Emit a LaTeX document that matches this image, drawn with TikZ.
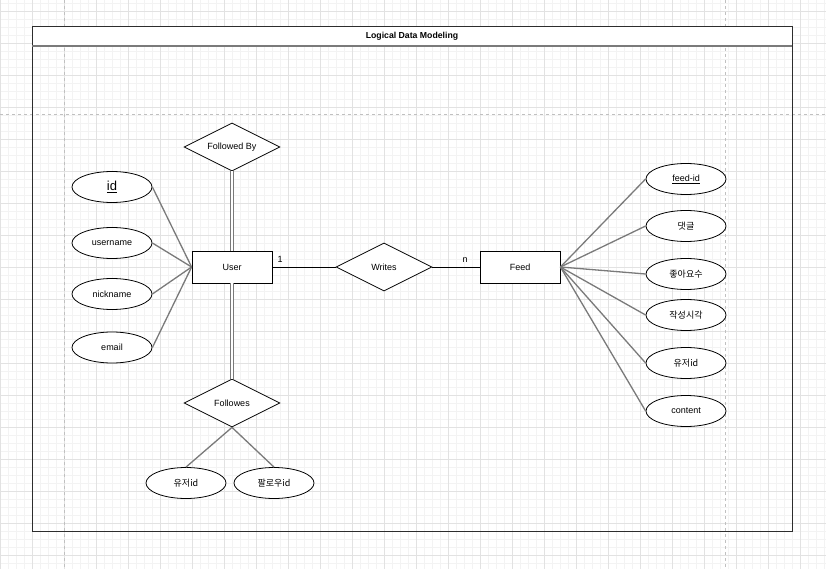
\documentclass[tikz,border=0pt]{standalone}
\usepackage{fontspec}
\setmainfont{Liberation Sans}
\newfontfamily\kr{Noto Sans CJK KR}
\usetikzlibrary{shapes.geometric}
\definecolor{gmin}{RGB}{243,243,243}
\definecolor{gmaj}{RGB}{226,226,226}
\definecolor{pagel}{RGB}{192,192,192}
\definecolor{attrl}{RGB}{122,122,122}
\definecolor{framec}{RGB}{45,45,45}
\begin{document}
\begin{tikzpicture}[x=1pt,y=-1pt,
  lbl/.style={font=\fontsize{9}{10}\selectfont},
  attr/.style={ellipse, draw=black, line width=0.8pt, fill=white, minimum width=80pt, minimum height=31pt, inner sep=0pt, font=\fontsize{9}{10}\selectfont},
  ent/.style={rectangle, draw=black, line width=0.8pt, fill=white, minimum width=80pt, minimum height=32pt, inner sep=0pt, font=\fontsize{9}{10}\selectfont},
  rel/.style={diamond, draw=black, line width=0.8pt, fill=white, minimum width=96pt, minimum height=48pt, inner sep=1pt, aspect=2, font=\fontsize{9}{10}\selectfont},
  aline/.style={draw=attrl, line width=1.3pt},
  dline/.style={draw=attrl, double=white, double distance=1.4pt, line width=0.9pt},
  rline/.style={draw=black, line width=0.8pt}]
\useasboundingbox (0,0) rectangle (826,569);
\fill[white] (0,0) rectangle (826,569);
% grid
\foreach \x in {0,8,...,824} \draw[gmin, line width=0.6pt] (\x,0) -- (\x,569);
\foreach \y in {3,11,...,567} \draw[gmin, line width=0.6pt] (0,\y) -- (826,\y);
\foreach \x in {0,32,...,800} \draw[gmaj, line width=0.8pt] (\x,0) -- (\x,569);
\foreach \y in {11,43,...,555} \draw[gmaj, line width=0.8pt] (0,\y) -- (826,\y);
% page break lines
\draw[pagel, line width=0.7pt, dash pattern=on 3pt off 3pt] (64,0) -- (64,569);
\draw[pagel, line width=0.7pt, dash pattern=on 3pt off 3pt] (725,0) -- (725,569);
\draw[pagel, line width=0.7pt, dash pattern=on 3pt off 3pt] (0,114) -- (826,114);
% container
\fill[white] (32,27) rectangle (792,46);
\draw[framec, line width=1pt] (32,27) rectangle (792,531);
\draw[attrl, line width=1.6pt] (32,46) -- (792,46);
\node[font=\bfseries\fontsize{8.7}{10}\selectfont] (title) at (412,36.5) {Logical Data Modeling};
% relationships and entities
\node[rel] (fb) at (232,147) {Followed By};
\node[ent] (user) at (232,267) {User};
\node[rel] (writes) at (384,267) {Writes};
\node[ent] (feed) at (520,267) {Feed};
\node[rel] (fw) at (232,403) {Followes};
% user attributes
\node[attr, font=\fontsize{13}{14}\selectfont] (id) at (112,187) {\underline{id}};
\node[attr] (uname) at (112,243) {username};
\node[attr] (nick) at (112,294) {nickname};
\node[attr] (email) at (112,347.5) {email};
% followes attributes
\node[attr, font=\kr\fontsize{9}{10}\selectfont] (fuid) at (186,483) {유저id};
\node[attr, font=\kr\fontsize{9}{10}\selectfont] (ffid) at (274,483) {팔로우id};
% feed attributes
\node[attr] (feedid) at (686,179) {\underline{feed-id}};
\node[attr, font=\kr\fontsize{9}{10}\selectfont] (cmt) at (686,226) {댓글};
\node[attr, font=\kr\fontsize{9}{10}\selectfont] (likes) at (686,274) {좋아요수};
\node[attr, font=\kr\fontsize{9}{10}\selectfont] (ctime) at (686,315) {작성시각};
\node[attr, font=\kr\fontsize{9}{10}\selectfont] (fuser) at (686,363) {유저id};
\node[attr] (content) at (686,411) {content};
% cardinality labels
\node[lbl] (c1) at (280,259) {1};
\node[lbl] (cn) at (465,260) {n};
% connectors
\draw[rline] (user.east) -- (writes.west);
\draw[rline] (writes.east) -- (feed.west);
\draw[dline] (fb.south) -- (user.north);
\draw[dline] (user.south) -- (fw.north);
\foreach \a in {id,uname,nick,email} \draw[aline] (\a.east) -- (user.west);
\foreach \a in {feedid,cmt,likes,ctime,fuser,content} \draw[aline] (feed.east) -- (\a.west);
\draw[aline] (fw.south) -- (fuid.north);
\draw[aline] (fw.south) -- (ffid.north);
\end{tikzpicture}
\end{document}
